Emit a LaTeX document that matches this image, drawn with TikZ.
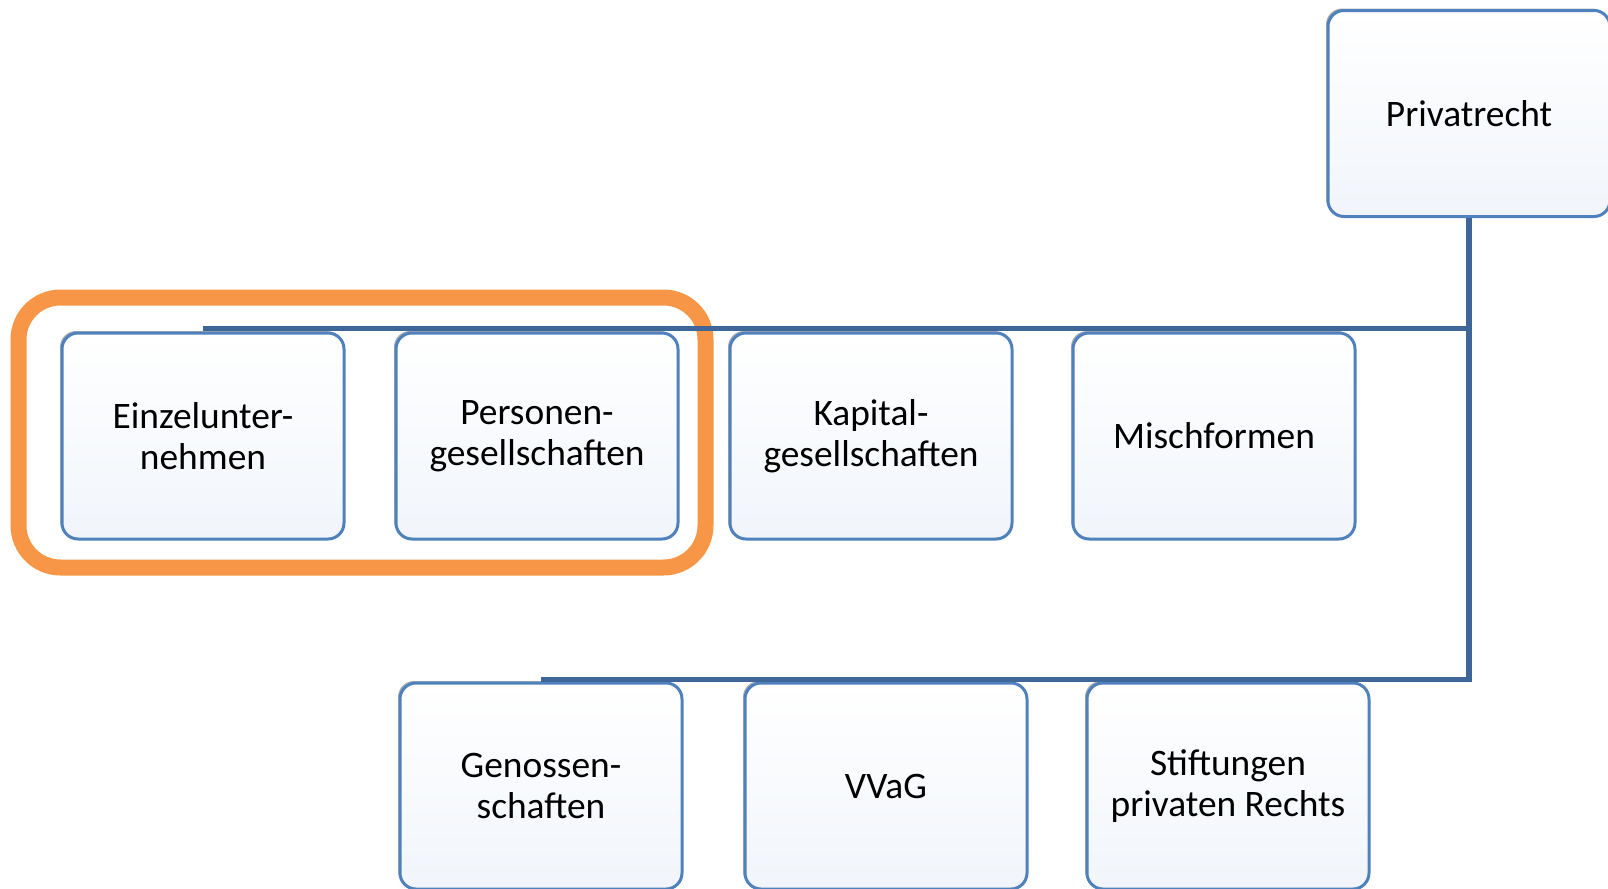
\documentclass[tikz,border=0pt]{standalone}
\usepackage{fontspec}
\setmainfont{Carlito}
\usetikzlibrary{shadows}
\definecolor{boxblue}{HTML}{4F81BD}
\definecolor{linkblue}{HTML}{3F6699}
\definecolor{frameorange}{HTML}{F79646}
\definecolor{boxfill}{HTML}{F1F5FB}
\begin{document}
\begin{tikzpicture}[x=0.5pt,y=-0.5pt,
  box/.style={draw=boxblue, line width=1.5pt, rounded corners=8pt,
    minimum width=141pt, minimum height=103pt, top color=white, bottom color=boxfill,
    align=center, font=\fontsize{18.7}{20.5}\selectfont,
    drop shadow={shadow xshift=-1pt, shadow yshift=1pt, fill=gray!80, opacity=0.8}},
  link/.style={draw=linkblue, line width=2.75pt},
  frame/.style={draw=frameorange, line width=8pt, rounded corners=21pt}]
\clip (0,0) rectangle (1608,889);

\node[box] (priv) at (1469,113.5) {Privatrecht};

\node[box] (einzel) at (203,436) {Einzelunter-\\nehmen};
\node[box] (personen) at (537,436) {Personen-\\gesellschaften};
\node[box] (kapital) at (871,436) {Kapital-\\gesellschaften};
\node[box] (misch) at (1214,436) {Mischformen};

\node[box] (genos) at (541,786) {Genossen-\\schaften};
\node[box] (vvag) at (886,786) {VVaG};
\node[box] (stift) at (1228,786) {Stiftungen\\privaten Rechts};

% Rahmen um die beiden ersten
\draw[frame] ([xshift=-21pt,yshift=17pt]einzel.north west) rectangle ([xshift=13pt,yshift=-13.5pt]personen.south east);

\coordinate (row1) at ([yshift=1.5pt]einzel.north);
\coordinate (row2) at ([yshift=1pt]genos.north);
\draw[link] (priv.south) |- (row1);
\draw[link] (priv.south) |- (row2);
\end{tikzpicture}
\end{document}
